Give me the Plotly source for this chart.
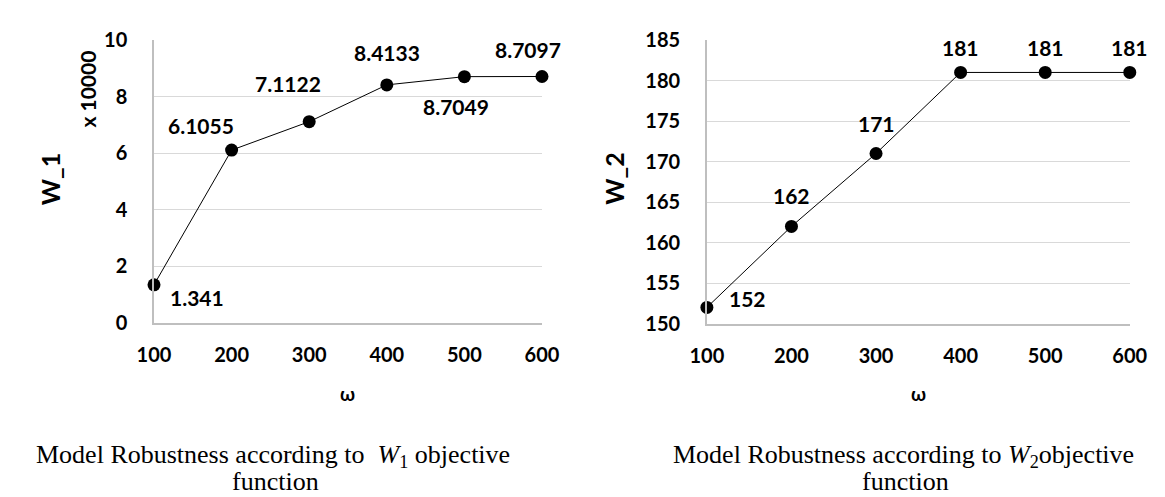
import plotly.graph_objects as go

omega = [100, 200, 300, 400, 500, 600]
w1_values = [1.341, 6.1055, 7.1122, 8.4133, 8.7049, 8.7097]  # x 10000
w2_values = [152, 162, 171, 181, 181, 181]
w1_labels = ["1.341", "6.1055", "7.1122", "8.4133", "8.7049", "8.7097"]
w2_labels = ["152", "162", "171", "181", "181", "181"]
w1_ticks = [0, 2, 4, 6, 8, 10]
w2_ticks = [150, 155, 160, 165, 170, 175, 180, 185]
x_ticks = [100, 200, 300, 400, 500, 600]

# label offsets (px) relative to points
w1_off = [(43, -13), (-31, 25), (-21, 38), (0, 32), (-8, -30), (-14, 27)]
w2_off = [(41, 9), (0, 31), (0, 30), (0, 25), (0, 25), (0, 25)]

W, H = 1165, 497
FONT = "Lato"
fig = go.Figure()

fig.add_trace(go.Scatter(x=omega, y=w1_values, mode="lines+markers",
                         line=dict(color="black", width=1),
                         marker=dict(color="black", size=13),
                         cliponaxis=False, xaxis="x", yaxis="y", showlegend=False))
fig.add_trace(go.Scatter(x=omega, y=w2_values, mode="lines+markers",
                         line=dict(color="black", width=1),
                         marker=dict(color="black", size=13),
                         cliponaxis=False, xaxis="x2", yaxis="y2", showlegend=False))

ann = []
lab_font = dict(family=FONT, size=21, color="black", weight="bold")
for xv, yv, t, (dx, dy) in zip(omega, w1_values, w1_labels, w1_off):
    ann.append(dict(x=xv, y=yv, xref="x", yref="y", text=t, showarrow=False,
                    xanchor="center", yanchor="middle",
                    xshift=dx, yshift=dy, font=lab_font))
for xv, yv, t, (dx, dy) in zip(omega, w2_values, w2_labels, w2_off):
    ann.append(dict(x=xv, y=yv, xref="x2", yref="y2", text=t, showarrow=False,
                    xanchor="center", yanchor="middle",
                    xshift=dx, yshift=dy, font=lab_font))

def px(xp):
    return xp / W

def py(yp):
    return 1 - yp / H

def paper_text(x, y, text, font, angle=0):
    return dict(x=px(x), y=py(y), xref="paper", yref="paper", text=text, textangle=angle,
                xanchor="center", yanchor="middle", showarrow=False, font=font, align="center")

title_font = dict(family=FONT, size=25, color="black", weight="bold")
ann.append(paper_text(26, 166, "W_1", title_font, -90))
ann.append(paper_text(64, 72, "x 10000", dict(family=FONT, size=21, color="black", weight="bold"), -90))
ann.append(paper_text(607, 166, "W_2", title_font, -90))
omega_font = dict(family=FONT, size=19, color="black", weight="bold")
ann.append(paper_text(333, 391, "ω", omega_font))
ann.append(paper_text(921, 391, "ω", omega_font))

cap_font = dict(family="Liberation Serif", size=26, color="black")
ann.append(paper_text(256, 457, "Model Robustness according to  <i>W</i><sub>1</sub> objective", cap_font))
ann.append(paper_text(258, 484, "function", cap_font))
ann.append(paper_text(906, 457, "Model Robustness according to <i>W</i><sub>2</sub>objective", cap_font))
ann.append(paper_text(908, 484, "function", cap_font))

tick_font = dict(family=FONT, size=20, color="black", weight="bold")
xcommon = dict(tickvals=x_ticks, showgrid=False, zeroline=False, showline=True,
               linecolor="#bfbfbf", linewidth=1.5, ticks="", tickfont=tick_font,
               ticklabelstandoff=14)
ycommon = dict(showgrid=True, gridcolor="#d9d9d9", gridwidth=1.3, zeroline=False,
               showline=True, linecolor="#bfbfbf", linewidth=1.5, ticks="",
               tickfont=tick_font, ticklabelstandoff=21)

fig.update_layout(
    width=W, height=H, margin=dict(l=0, r=0, t=0, b=0),
    paper_bgcolor="white", plot_bgcolor="white",
    xaxis=dict(domain=[px(133), px(533)], range=[100, 600], anchor="y", **xcommon),
    yaxis=dict(domain=[py(317), py(20)], range=[0, 10], tickvals=w1_ticks, anchor="x", **ycommon),
    xaxis2=dict(domain=[px(703), px(1139)], range=[100, 600], anchor="y2", **xcommon),
    yaxis2=dict(domain=[py(318), py(20)], range=[150, 185], tickvals=w2_ticks, anchor="x2", **ycommon),
    annotations=ann,
)

fig.write_html("out.html")
